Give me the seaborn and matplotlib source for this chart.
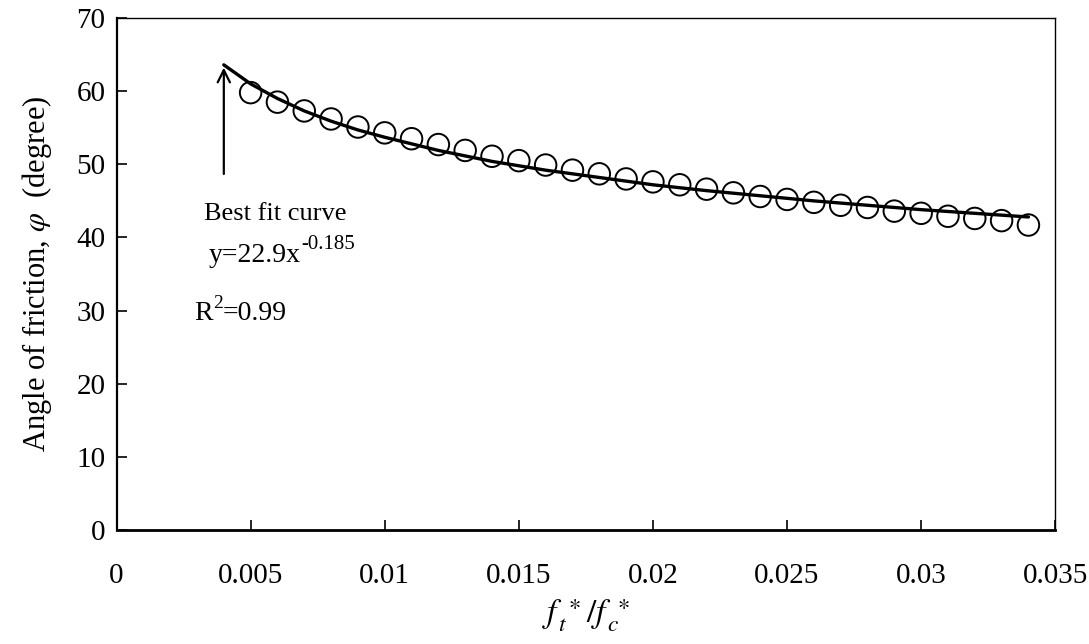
import numpy as np
import pandas as pd
import matplotlib
matplotlib.use("Agg")
import matplotlib.pyplot as plt
import seaborn as sns

# ----------------------------
# DATA
# ----------------------------

ratio = [0.005, 0.006, 0.007, 0.008, 0.009, 0.010, 0.011, 0.012, 0.013, 0.014,
         0.015, 0.016, 0.017, 0.018, 0.019, 0.020, 0.021, 0.022, 0.023, 0.024,
         0.025, 0.026, 0.027, 0.028, 0.029, 0.030, 0.031, 0.032, 0.033, 0.034]
friction = [59.8, 58.5, 57.3, 56.2, 55.1, 54.3, 53.5, 52.7, 51.9, 51.1,
            50.5, 49.9, 49.2, 48.7, 48.0, 47.6, 47.2, 46.6, 46.1, 45.6,
            45.2, 44.8, 44.4, 44.1, 43.6, 43.3, 42.9, 42.6, 42.3, 41.7]

fit_x = [0.004, 0.005, 0.006, 0.007, 0.008, 0.009, 0.010, 0.012, 0.014, 0.016,
         0.018, 0.020, 0.022, 0.024, 0.026, 0.028, 0.030, 0.032, 0.034]
fit_y = [63.6, 61.0, 59.0, 57.3, 55.9, 54.7, 53.7, 51.9, 50.4, 49.2,
         48.2, 47.2, 46.4, 45.7, 45.0, 44.4, 43.8, 43.3, 42.8]

x_ticks = [0, 0.005, 0.01, 0.015, 0.02, 0.025, 0.03, 0.035]
x_tick_labels = ["0", "0.005", "0.01", "0.015", "0.02", "0.025", "0.03", "0.035"]
y_ticks = [0, 10, 20, 30, 40, 50, 60, 70]

points = pd.DataFrame({"ratio": ratio, "friction": friction})
fit = pd.DataFrame({"ratio": fit_x, "friction": fit_y})

# ----------------------------
# STYLE
# ----------------------------

sns.set_style("ticks")
plt.rcParams["font.family"] = ["Liberation Serif", "DejaVu Serif"]
plt.rcParams["mathtext.fontset"] = "stix"
plt.rcParams["xtick.direction"] = "in"
plt.rcParams["ytick.direction"] = "in"
plt.rcParams["text.color"] = "black"
plt.rcParams["axes.labelcolor"] = "black"
plt.rcParams["xtick.color"] = "black"
plt.rcParams["ytick.color"] = "black"

fig, ax = plt.subplots(figsize=(10.89, 6.44), dpi=100)
fig.subplots_adjust(left=0.107, right=0.969, top=0.972, bottom=0.177)

# ----------------------------
# PLOT
# ----------------------------

sns.lineplot(data=fit, x="ratio", y="friction", ax=ax, color="black",
             linewidth=2.4, zorder=3)

sns.scatterplot(data=points, x="ratio", y="friction", ax=ax, marker="o",
                s=240, facecolors="none", edgecolor="black", linewidth=1.4,
                zorder=2)

ax.annotate("", xy=(fit_x[0], fit_y[0]), xytext=(fit_x[0], 48.3),
            arrowprops=dict(arrowstyle="->", color="black", lw=1.6,
                            mutation_scale=22))

ax.text(0.00325, 43.2, "Best fit curve", fontsize=19, va="center")
eq = ax.text(0.00345, 37.6, "y=22.9x", fontsize=20, va="center")
ax.annotate("-0.185", xy=(1, 0.55), xycoords=eq, fontsize=15,
            va="bottom", ha="left")
r2 = ax.text(0.0029, 29.6, "R", fontsize=20, va="center")
r2_sup = ax.annotate("2", xy=(1, 0.55), xycoords=r2, fontsize=14,
                     va="bottom", ha="left")
ax.annotate("=0.99", xy=(1, 0), xycoords=(r2_sup, r2), fontsize=20,
            va="bottom", ha="left")

ax.set_xlim(0, 0.035)
ax.set_ylim(0, 70)
ax.set_xticks(x_ticks)
ax.set_xticklabels(x_tick_labels)
ax.set_yticks(y_ticks)
ax.tick_params(axis="both", labelsize=21, length=7, width=1.2, pad=8)
ax.tick_params(axis="x", pad=24)

for side in ["left", "bottom", "right", "top"]:
    ax.spines[side].set_visible(True)
    ax.spines[side].set_color("black")
ax.spines["left"].set_linewidth(1.6)
ax.spines["bottom"].set_linewidth(2.0)
ax.spines["right"].set_linewidth(1.0)
ax.spines["top"].set_linewidth(1.0)

ax.set_xlabel(r"$f_{\,t}^{\ \ast}/f_{\,c}^{\ \ast}$", fontsize=24, labelpad=6)
ax.set_ylabel(r"Angle of friction, $\varphi$  (degree)", fontsize=22, labelpad=16)

plt.savefig("out.png", dpi=100)
